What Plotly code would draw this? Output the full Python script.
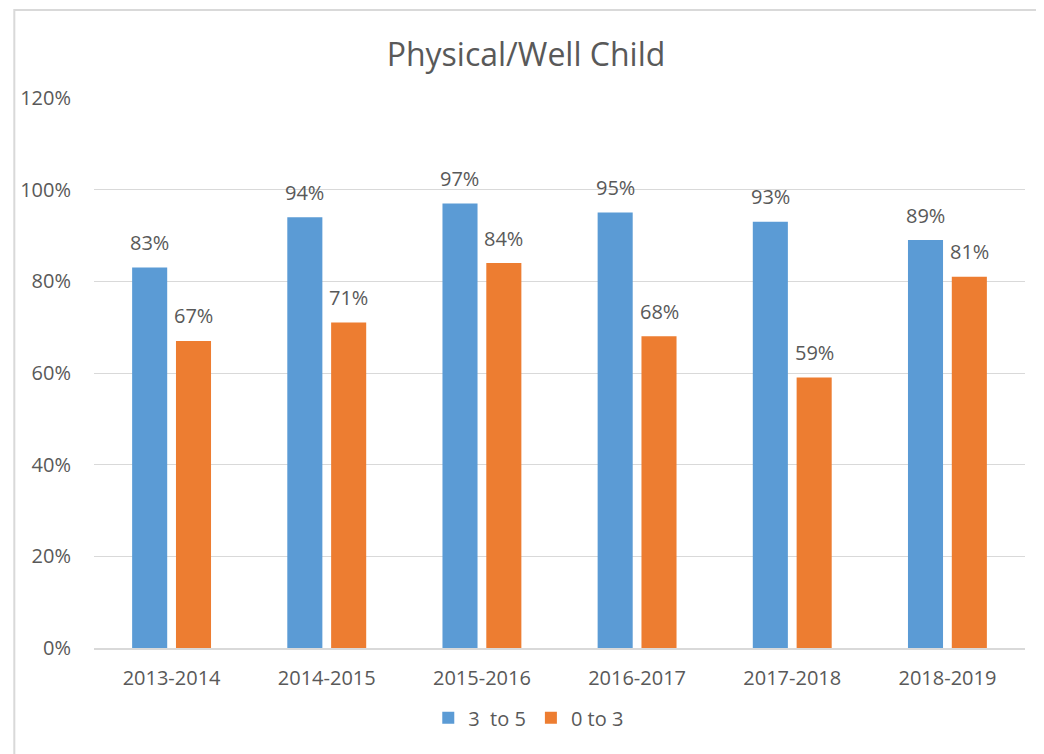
import plotly.graph_objects as go

SEASONS = ["2013-2014", "2014-2015", "2015-2016", "2016-2017", "2017-2018", "2018-2019"]
AGE_3_TO_5 = [83, 94, 97, 95, 93, 89]
AGE_0_TO_3 = [67, 71, 84, 68, 59, 81]

BLUE = "#5b9bd5"
ORANGE = "#ed7d31"
TEXT = "#595959"
GRID = "#d9d9d9"
FONT = "Open Sans, Liberation Sans, sans-serif"

# the page body adds an 8px margin, so the figure is sized to fit inside it
W, H = 1036, 746

fig = go.Figure()
series = [("3\u00a0 to 5", AGE_3_TO_5, BLUE, -22), ("0 to 3", AGE_0_TO_3, ORANGE, 22)]
for name, vals, color, shift in series:
    fig.add_trace(go.Bar(
        x=SEASONS, y=vals, name=name,
        marker=dict(color=color, line=dict(width=0)),
    ))
    for season, v in zip(SEASONS, vals):
        fig.add_annotation(x=season, y=v, text=f"{v}%", showarrow=False,
                           xshift=shift, yshift=25, yanchor="middle",
                           font=dict(size=20, color=TEXT, family=FONT))

fig.update_layout(
    width=W, height=H,
    paper_bgcolor="white", plot_bgcolor="white",
    font=dict(family=FONT, color=TEXT, size=20),
    title=dict(text="Physical/Well Child", x=0.5, xanchor="center", y=0.937, yanchor="middle",
               font=dict(size=32, color=TEXT, family=FONT)),
    barmode="group", bargap=0.435, bargroupgap=0.2,
    margin=dict(l=82, r=19, t=90, b=106),
    legend=dict(orientation="h", x=0.467, xanchor="center", y=-0.127, yanchor="middle",
                font=dict(size=20, color=TEXT), traceorder="normal"),
    shapes=[dict(type="rect", xref="paper", yref="paper", x0=-0.0856, x1=1.017, y0=-0.3, y1=1.16,
                 line=dict(color=GRID, width=2))],
)
fig.update_yaxes(range=[0, 120], dtick=20, ticksuffix="%", gridcolor=GRID, gridwidth=1,
                 zeroline=False, showline=False, ticklabelstandoff=22,
                 tickfont=dict(size=20, color=TEXT))
fig.update_xaxes(showline=True, linecolor=GRID, linewidth=2, ticks="",
                 tickfont=dict(size=20, color=TEXT), ticklabelstandoff=11)

fig.write_html("out.html")
